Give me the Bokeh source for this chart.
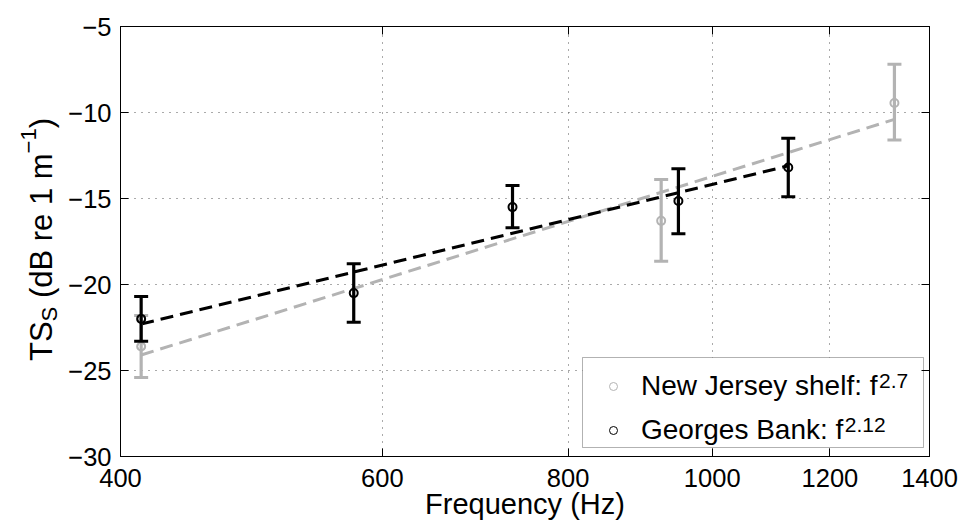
import math
from bokeh.plotting import figure
from bokeh.layouts import row
from bokeh.models import (FixedTicker, CustomJSTickFormatter, LogAxis, LinearAxis,
                          Label, Legend, LegendItem, BoxAnnotation)
from bokeh.embed import file_html
from bokeh.resources import INLINE

# ---------------- data ----------------
nj_freq = [413, 924, 1326]
nj_ts = [-23.6, -16.3, -9.45]
nj_lo = [-25.4, -18.65, -11.6]
nj_hi = [-21.8, -13.9, -7.2]

gb_freq = [413, 574, 734, 949, 1125]
gb_ts = [-22.0, -20.5, -15.5, -15.15, -13.2]
gb_lo = [-23.3, -22.2, -16.7, -17.05, -14.9]
gb_hi = [-20.7, -18.8, -14.25, -13.27, -11.5]

nj_fit_freq = [413, 1326]
nj_fit_ts = [-24.1, -10.4]
gb_fit_freq = [413, 1125]
gb_fit_ts = [-22.3, -13.1]

x_ticks = [400, 600, 800, 1000, 1200, 1400]
y_ticks = [-30, -25, -20, -15, -10, -5]

nj_label, nj_exp = "New Jersey shelf: f", "2.7"
gb_label, gb_exp = "Georges Bank: f", "2.12"
x_title = "Frequency (Hz)"

# ---------------- style / layout ----------------
GREY = "#b3b3b3"
BLACK = "#000000"
FONT = "Liberation Sans"
W, H = 963, 522
STRIP_W = 64                                  # narrow figure holding the y title
FL, FR, FT, FB = 120, 929, 26, 457            # frame edges in window px

HELV = {'T': 611, 'S': 667, ' ': 278, '(': 333, ')': 333, 'd': 556, 'B': 667, 'r': 333,
        'e': 556, '1': 556, 'm': 833, '\u2212': 584, 'N': 722, 'w': 722, 'J': 500,
        's': 500, 'y': 500, 'h': 556, 'l': 222, 'f': 278, ':': 278, 'G': 778, 'o': 556,
        'g': 556, 'a': 556, 'n': 556, 'k': 500, '.': 278, '2': 556, '7': 556}


def tw(s, size):
    return sum(HELV.get(c, 556) for c in s) * size / 1000.0


def sx(win_x):
    return win_x - FL


def sy(win_y):
    return FB - win_y


# ---------------- main plot ----------------
p = figure(width=W - STRIP_W, height=H, x_axis_type="log", x_range=(400, 1400),
           y_range=(-30, -5), output_backend="svg", toolbar_location=None, title=None,
           min_border_left=FL - STRIP_W, min_border_right=W - FR, min_border_top=FT,
           min_border_bottom=H - FB)
p.background_fill_color = "white"
p.border_fill_color = "white"
p.outline_line_color = BLACK
p.outline_line_width = 1

xb = p.xaxis[0]
xb.ticker = FixedTicker(ticks=x_ticks, minor_ticks=[])
xb.formatter = CustomJSTickFormatter(code="return String(Math.round(tick));")
yl = p.yaxis[0]
yl.ticker = FixedTicker(ticks=y_ticks, minor_ticks=[])
yl.formatter = CustomJSTickFormatter(
    code="return tick < 0 ? '\\u2212' + String(-tick) : String(tick);")

top = LogAxis(ticker=FixedTicker(ticks=x_ticks, minor_ticks=[]),
              formatter=CustomJSTickFormatter(code="return '';"))
right = LinearAxis(ticker=FixedTicker(ticks=y_ticks, minor_ticks=[]),
                   formatter=CustomJSTickFormatter(code="return '';"))
p.add_layout(top, "above")
p.add_layout(right, "right")

for ax in (xb, yl, top, right):
    ax.major_tick_in = 8
    ax.major_tick_out = 0
    ax.minor_tick_line_color = None
    ax.major_tick_line_color = BLACK
    ax.major_tick_line_width = 1
    ax.axis_line_color = BLACK
    ax.axis_line_width = 1
    ax.major_label_text_font = FONT
    ax.major_label_text_font_size = "25.5px"
    ax.major_label_text_color = BLACK
xb.major_label_standoff = 12
yl.major_label_standoff = 9
top.major_label_standoff = 0
right.major_label_standoff = 0

xb.axis_label = x_title
xb.axis_label_text_font = FONT
xb.axis_label_text_font_size = "29px"
xb.axis_label_text_font_style = "normal"
xb.axis_label_text_color = BLACK
xb.axis_label_standoff = -2

p.xgrid.ticker = FixedTicker(ticks=x_ticks, minor_ticks=[])
p.ygrid.ticker = FixedTicker(ticks=y_ticks, minor_ticks=[])
p.grid.grid_line_color = "#555555"
p.grid.grid_line_width = 1
p.grid.grid_line_dash = "1 6"

# fitted power laws
p.line(nj_fit_freq, nj_fit_ts, line_color=GREY, line_width=3, line_dash="13 7")
p.line(gb_fit_freq, gb_fit_ts, line_color=BLACK, line_width=3, line_dash="13 7")

# legend-only markers (hidden under the first data markers)
leg_nj = p.scatter(nj_freq[:1], nj_ts[:1], marker="circle", size=7, line_width=1,
                   line_color=GREY, fill_alpha=0)
leg_gb = p.scatter(gb_freq[:1], gb_ts[:1], marker="circle", size=7, line_width=1,
                   line_color=BLACK, fill_alpha=0)

# error bars + markers
for f, ts, lo, hi, col in ((nj_freq, nj_ts, nj_lo, nj_hi, GREY),
                           (gb_freq, gb_ts, gb_lo, gb_hi, BLACK)):
    p.segment(x0=f, y0=lo, x1=f, y1=hi, line_color=col, line_width=3.2)
    p.scatter(f, lo, marker="dash", size=14, line_color=col, line_width=3)
    p.scatter(f, hi, marker="dash", size=14, line_color=col, line_width=3)
    p.scatter(f, ts, marker="circle", size=8, line_color=col, line_width=2, fill_alpha=0)

# legend: box + items + superscripts
BOX_L, BOX_R, BOX_T, BOX_B = 582, 923, 358, 448
MK_X, ROW1_TOP = 613, 371
GW, GH, LH, SP = 20, 20, 32, 12
TEXT_X = 641
p.add_layout(BoxAnnotation(left=sx(BOX_L), right=sx(BOX_R), top=sy(BOX_T), bottom=sy(BOX_B),
                           left_units="screen", right_units="screen",
                           top_units="screen", bottom_units="screen",
                           fill_color="white", fill_alpha=1.0, line_color=BLACK,
                           line_width=1, level="glyph"))
legend = Legend(items=[LegendItem(label=nj_label, renderers=[leg_nj]),
                       LegendItem(label=gb_label, renderers=[leg_gb])],
                location=(sx(MK_X - GW / 2.0), sy(ROW1_TOP + 2 * LH + SP)),
                orientation="vertical", padding=0, margin=0, spacing=SP,
                glyph_width=GW, glyph_height=GH, label_height=LH, label_width=20,
                label_standoff=int(round(TEXT_X - (MK_X + GW / 2.0))),
                border_line_color=None, background_fill_alpha=0.0,
                label_text_font=FONT, label_text_font_size="28px",
                label_text_color=BLACK)
p.add_layout(legend)

for i, (lab, ex) in enumerate(((nj_label, nj_exp), (gb_label, gb_exp))):
    row_center = ROW1_TOP + i * (LH + SP) + LH / 2.0
    p.add_layout(Label(x=sx(TEXT_X + tw(lab, 28) + 1), y=sy(row_center - 6),
                       x_units="screen", y_units="screen", text=ex, level="overlay",
                       text_font=FONT, text_font_size="21px", text_color=BLACK,
                       text_align="left", text_baseline="alphabetic"))

# ---------------- strip with the y title (frame aligned with the main frame) ----------------
s = figure(width=STRIP_W, height=H, output_backend="svg", toolbar_location=None,
           title=None, x_axis_location=None, y_axis_location=None,
           min_border_left=0, min_border_right=0, min_border_top=FT,
           min_border_bottom=H - FB)
s.outline_line_color = None
s.background_fill_color = "white"
s.border_fill_color = "white"
s.grid.visible = False

MAIN, SMALL = 31, 22
# (text, font size, baseline shift to the right (down in reading), gap before)
pieces = [("TS", MAIN, 0, 0.0), ("S", SMALL, 8, 0.0), ("(dB re 1 m", MAIN, 0, tw(" ", MAIN)),
          ("\u22121", SMALL, -13, 0.0), (")", MAIN, 0, 0.0)]
total = sum(tw(t, z) + g for t, z, _, g in pieces)
cur = 240 + total / 2.0        # window y where the title starts (bottom end)
BASE_X = 41
for t, z, off, gap in pieces:
    cur -= gap
    s.add_layout(Label(x=BASE_X + off, y=sy(cur), x_units="screen", y_units="screen",
                       text=t, angle=math.pi / 2, text_font=FONT,
                       text_font_size="%dpx" % z, text_color=BLACK,
                       text_align="left", text_baseline="alphabetic"))
    cur -= tw(t, z)

layout = row(s, p)
open("out.html", "w").write(file_html(layout, INLINE))
